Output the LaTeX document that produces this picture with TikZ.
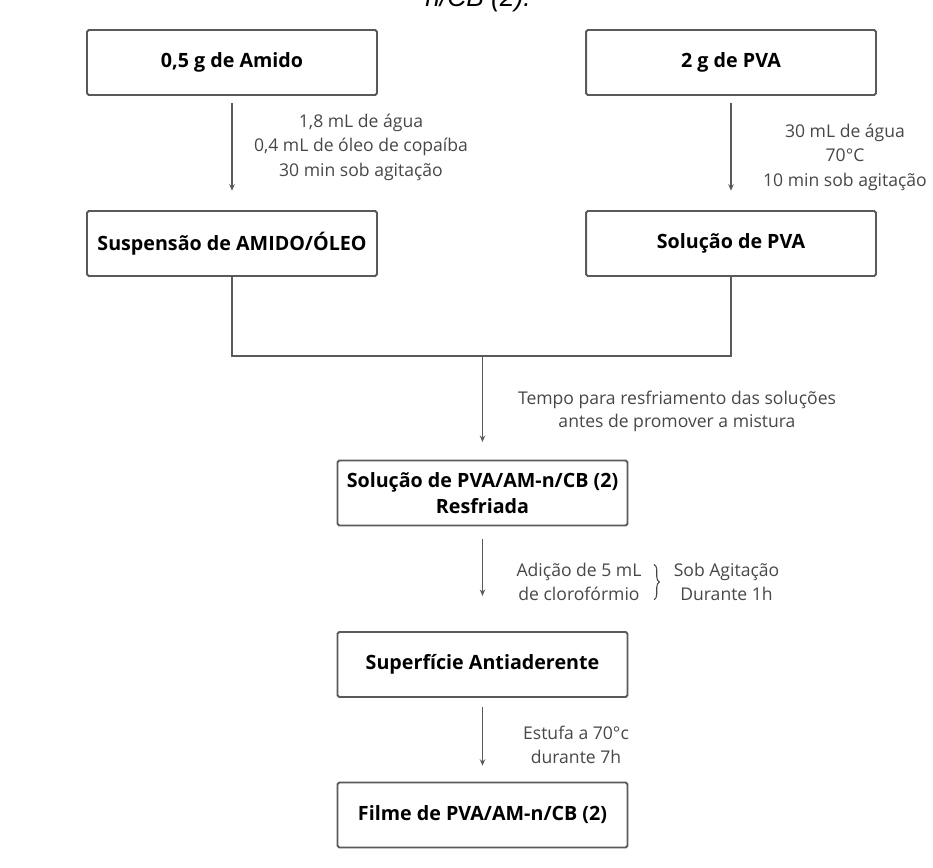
\documentclass[tikz,border=0pt]{standalone}
\usepackage{fontspec}
\setmainfont{Open Sans}
\newfontfamily\captionfont{Liberation Sans}
\usetikzlibrary{
  arrows.meta,
  decorations.pathreplacing,
  positioning
}
\definecolor{flowGray}{HTML}{5A5A5A}
\definecolor{noteGray}{HTML}{474747}
\tikzset{
  flowBox/.style={
    draw=flowGray,
    line width=1.1pt,
    rounded corners=1pt,
    fill=white,
    minimum width=5.8cm,
    minimum height=1.3cm,
    align=center,
    font=\fontsize{11.2}{15}\selectfont\bfseries,
    inner sep=2pt
  },
  flowArrow/.style={-{Stealth[length=1.3mm, width=1.1mm]}, line width=0.6pt, flowGray},
  flowLine/.style={line width=1.1pt, flowGray},
  stepNote/.style={
    font=\fontsize{10}{14}\selectfont,
    text=noteGray,
    align=center,
    inner sep=1pt
  }
}

\begin{document}
\begin{tikzpicture}[x=0.02cm,y=-0.02cm]
  \clip (0,0) rectangle (933,867);

  \node[font=\captionfont\itshape\fontsize{15}{18}\selectfont, anchor=base]
    (caption) at (478,6) {n/CB (2).};

  \node[flowBox] (amido) at (232,62.5) {0,5 g de Amido};
  \node[flowBox] (pva) at (731,62.5) {2 g de PVA};
  \node[flowBox] (susp) at (232,243.5) {Suspensão de AMIDO/ÓLEO};
  \node[flowBox] (solpva) at (731,243.5) {Solução de PVA};
  \node[flowBox] (resfr) at (482.5,493)
    {Solução de PVA/AM-n/CB (2)\\Resfriada};
  \node[flowBox] (superf) at (482.5,664.5) {Superfície Antiaderente};
  \node[flowBox] (filme) at (482.5,815) {Filme de PVA/AM-n/CB (2)};

  \node[stepNote] (noteAmido) at (361,147)
    {1,8 mL de água\\0,4 mL de óleo de copaíba\\30 min sob agitação};
  \node[stepNote] (notePva) at (845,157)
    {30 mL de água\\70°C\\10 min sob agitação};
  \node[stepNote, font=\fontsize{10}{13}\selectfont] (noteFrio) at (677,411.5)
    {Tempo para resfriamento das soluções\\antes de promover a mistura};
  \node[stepNote] (noteClor) at (579,582)
    {Adição de 5 mL\\de clorofórmio};
  \node[stepNote, right=16pt of noteClor] (noteAgit)
    {Sob Agitação\\Durante 1h};
  \node[stepNote] (noteEstufa) at (576,745)
    {Estufa a 70°c\\durante 7h};

  \coordinate (join) at (482.5,356);

  \draw[flowArrow, shorten <=4pt, shorten >=11pt] (amido) -- (susp);
  \draw[flowArrow, shorten <=4pt, shorten >=11pt] (pva) -- (solpva);
  \draw[flowLine] (susp.south) |- (join) -| (solpva.south);
  \draw[flowArrow, shorten >=10pt] (join) -- (resfr.north);
  \draw[flowArrow, shorten <=7pt, shorten >=20pt] (resfr) -- (superf);
  \draw[flowArrow, shorten <=5pt, shorten >=9pt] (superf) -- (filme);

  \draw[noteGray, line width=0.6pt, decorate, decoration={brace, amplitude=3pt}]
    ([xshift=6pt,yshift=-2pt]noteClor.north east) -- ([xshift=6pt,yshift=2pt]noteClor.south east);
\end{tikzpicture}
\end{document}
